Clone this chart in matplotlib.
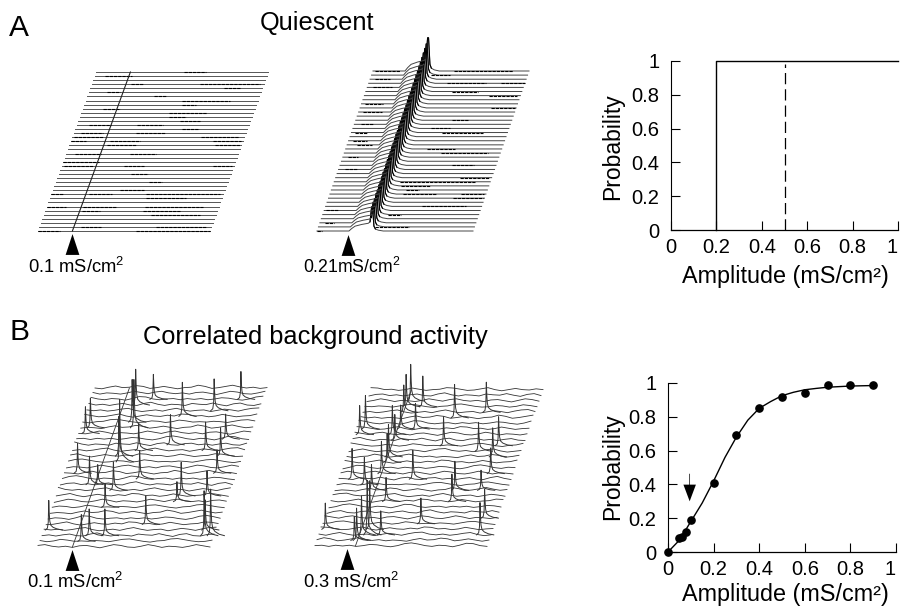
import numpy as np
import matplotlib
matplotlib.use("Agg")
import matplotlib.pyplot as plt
from matplotlib.path import Path

plt.rcParams['font.family'] = ['Liberation Sans', 'DejaVu Sans']
plt.rcParams['mathtext.fontset'] = 'custom'
plt.rcParams['mathtext.rm'] = 'Liberation Sans'
plt.rcParams['mathtext.default'] = 'regular'

W, H = 901, 607

# panel A, left: black stretches of the flat traces (row, t start, t end)
a1_speckles = [(39,.51,.64),(38,.06,.22),(36,.23,.30),(36,.63,.98),(35,.78,.87),(34,.11,.18),
    (33,.39,.46),(32,.56,.84),(31,.57,.65),(30,.12,.22),(29,.51,.73),(28,.52,.62),(27,.59,.71),
    (26,.07,.2),(26,.35,.5),(25,.62,.72),(24,.04,.17),(24,.36,.53),(23,.01,.18),(23,.75,.97),
    (22,0,.09),(22,.23,.4),(22,.83,.99),(21,.22,.39),(21,.85,.99),(19,.05,.2),(19,.37,.52),
    (17,0,.21),(16,.01,.18),(16,.36,.48),(16,.88,.99),(14,.42,.52),(12,.54,.62),(10,.39,.53),
    (9,0,.07),(9,.22,.35),(9,.55,.98),(8,.56,.79),(6,0,.11),(6,.21,.4),(6,.57,.91),(5,.21,.32),
    (5,.57,.78),(4,.62,.91),(1,.24,.36),(1,.68,.97),(0,0,.13),(0,.57,1)]
a1_ridge_t = 0.2

# panel A, middle: one response shape, scaled per row
a2_shape_t = [0, .205, .222, .244, .286, .329, .34, .35, .356, .365, .374, .393, .425, 1]
a2_shape_v = [0, 0, .1, .2, .27, .32, .38, 1, 1, .2, .085, .034, 0, 0]
a2_scale = [5.9,6.0,5.9,6.1,6.0,6.2,6.1,6.2,6.3,6.2,6.3,6.4,6.3,6.4,6.5,6.4,6.5,6.6,6.5,6.6,
            6.7,6.6,6.7,6.8,6.7,6.8,6.9,6.8,6.9,7.0,7.0,7.1,7.1,7.2,7.2,7.3,7.4,7.5,7.6,8.1]
a2_speckles = [(39,.01,.17),(39,.52,.9),(38,.38,.5),(37,.03,.13),(36,.5,.75),(36,.85,1),(35,.04,.16),
    (34,.55,.72),(33,.8,.98),(31,.02,.14),(30,.84,.99),(29,.03,.15),(27,.62,.72),(26,.04,.12),
    (25,.5,.62),(24,.02,.1),(24,.58,.84),(22,.03,.12),(21,.06,.16),(20,.52,.7),(19,.62,.92),
    (18,.03,.1),(16,.72,.86),(15,.04,.12),(13,.8,.98),(12,.42,.9),(11,.44,.62),(10,.48,.56),
    (9,.47,.68),(9,.84,.99),(8,.8,.99),(6,.62,.9),(5,.01,.09),(4,.42,.5),(2,.03,.09),(1,.36,.58),(0,0,.03)]

# panel B: spikes (row, t, height in rows) read from the two stacks
b1_spikes = [(3,.027,5.2),(1,.24,4.7),(2,.274,4.7),(2,.365,4.7),(4,.579,5),(2,.942,7.9),(2,.98,8.2),
    (3,.936,5.3),(9,.876,4.4),(9,.726,5.9),(8,.713,3.5),(10,.32,5),(7,.307,4.1),(11,.217,3.5),
    (11,.169,5),(13,.076,5.2),(12,.449,5),(13,.887,4.1),(15,.297,11),(22,.287,7.5),(21,.309,8.5),
    (17,.384,4.7),(18,.557,5.3),(17,.773,5),(16,.872,5),(19,.866,4.4),(23,.567,6),(24,.74,5.6),
    (26,.872,4.9),(26,.363,4.4),(25,.272,6.3),(20,.039,4.7),(21,.056,5.2),(16,.281,7)]
b2_spikes = [(3,.025,4.7),(1,.217,4.3),(1,.23,5.8),(2,.247,7),(2,.28,9.8),(3,.283,8.7),(2,.359,4.3),
    (4,.569,4.6),(8,.703,4.9),(10,.697,5.2),(10,.849,3.6),(2,.936,5.8),(5,.928,5.2),(13,.87,4.6),
    (17,.753,5.2),(16,.847,5.2),(18,.858,5.2),(18,.538,5.2),(12,.429,5.2),(24,.717,5.4),(23,.544,6),
    (25,.336,5.5),(26,.254,6.6),(25,.239,5.8),(24,.237,4.9),(21,.34,4.6),(21,.254,4.3),(20,.217,5.2),
    (19,.243,4.6),(16,.241,5.8),(15,.245,5.2),(13,.235,5.8),(12,.076,5.5),(11,.159,4.9),(10,.212,4.6),
    (8,.32,4.3),(20,.027,5.2),(21,.049,6)]
spike_t = [-.02, -.008, -.003, 0, .003, .006, .012, .025, .05, .08]
spike_v = [0, .06, .25, 1, .55, .3, .16, .09, .03, 0]

# slow background wobble of the traces, a few typed rows that get reused
ripples = [
    [0,.1,.05,-.05,.1,.25,.3,.15,0,-.1,.05,.1,.3,.35,.2,.05,-.05,0,.15,.1,-.05,.05,.25,.15,0,.05],
    [.1,-.05,.05,.2,.15,0,-.1,.05,.3,.4,.25,.05,-.05,.1,.05,-.1,.1,.35,.3,.05,-.05,.05,.1,-.05,.1,0],
    [-.05,.15,.3,.1,-.05,.05,.1,-.1,.05,.2,.1,-.05,.15,.3,.35,.1,0,.1,-.05,.05,.2,.3,.05,-.1,0,.1],
    [.2,.3,.1,0,.1,-.05,.15,.2,.05,-.1,.1,.3,.2,0,-.05,.1,.3,.15,-.05,.1,.05,-.05,.1,.3,.15,0],
    [0,-.1,.1,.25,.05,.1,.3,.2,-.05,.05,.2,.05,-.1,.05,.1,.35,.2,-.05,.05,.2,.35,.15,0,.1,-.05,.05],
    [.1,.2,0,-.05,.2,.35,.1,-.05,.1,.05,-.05,.2,.1,.05,.25,.05,-.1,.15,.25,0,-.05,.15,.2,0,.1,-.05],
    [-.1,.05,.2,.05,0,.15,.05,.3,.25,.05,.1,-.05,.05,.25,.1,-.05,.05,.1,.3,.25,.1,-.05,0,.15,.3,.05],
]
ripple_gain = 1.4
b1_ripple_row = [3,0,5,2,6,1,4,0,3,6,2,5,1,4,3,0,6,2,5,1,3,4,0,6,2,5,1,3,4]
b2_ripple_row = [1,4,2,6,0,3,5,1,6,2,4,0,5,3,1,6,4,2,0,5,3,6,1,4,2,0,3,5,6]
b1_roll = [0,7,3,11,5,14,2,9,17,4,12,6,19,1,8,15,3,10,21,5,13,2,18,7,11,4,16,9,0]
b2_roll = [5,12,1,8,16,3,10,20,6,14,2,9,18,4,11,7,15,0,13,22,3,8,17,5,10,1,12,6,19]
b1_ridge_t = 0.2
b2_ridge_t = 0.235

# right hand plots
tick_vals = [0, .2, .4, .6, .8, 1]
tick_labels = ['0', '0.2', '0.4', '0.6', '0.8', '1']
step_x = [0.2, 0.2, 1.0]
step_y = [0, 1, 1]
dash_x = [0.5, 0.5]
dash_y = [0, 0.98]
amp = [0, .05, .06, .08, .1, .2, .3, .4, .5, .6, .7, .8, .9]
prob = [0, .08, .09, .12, .19, .41, .69, .85, .92, .94, .99, .99, .99]
fit_x = [0, .05, .1, .15, .2, .25, .3, .35, .4, .45, .5, .55, .6, .65, .7, .8, .9]
fit_y = [0, .07, .18, .29, .42, .56, .68, .78, .85, .89, .925, .945, .96, .968, .975, .982, .985]

tri = Path([(-.33, -.5), (.33, -.5), (0, .5), (-.33, -.5)])
fig = plt.figure(figsize=(W / 100, H / 100), dpi=100)


def stack(left, ybot, ytop, width, shift, nrows):
    ax = fig.add_axes([left / W, 1 - ybot / H, (width + shift) / W, (ybot - ytop) / H])
    ax.set_xlim(0, width + shift)
    ax.set_ylim(0, nrows - 1)
    ax.axis('off')
    return ax, width, shift / (nrows - 1)


def speckle_rows(ax, width, skew, speckles):
    for r, t0, t1 in speckles:
        ax.plot(np.array([t0, t1]) * width + r * skew, [r, r], color='k', lw=0.8, dashes=(3, 0.8), clip_on=False)


def wobble_rows(ax, width, skew, nrows, order, rolls, spikes, ridge_t):
    grid = np.linspace(0, 1, len(ripples[0]))
    for r in range(nrows):
        wob = np.roll(ripples[order[r]], rolls[r]) * ripple_gain
        ax.plot(grid * width + r * skew, r + wob, color='#333333', lw=0.6, clip_on=False)
    for r, t, h in spikes:
        ax.plot((t + np.array(spike_t)) * width + r * skew, r + h * np.array(spike_v),
                color='#333333', lw=0.7, clip_on=False)
    rows = np.arange(nrows)
    ax.plot(ridge_t * width + rows * skew, rows, color='#333333', lw=0.6, clip_on=False)


# A left
ax, w, sk = stack(38, 231, 72, 172, 58, 40)
for r in range(40):
    ax.plot(np.array([0, 1]) * w + r * sk, [r, r], color='#555555', lw=0.7, clip_on=False)
speckle_rows(ax, w, sk, a1_speckles)
rows = np.arange(40)
ax.plot(a1_ridge_t * w + rows * sk, rows, color='#222222', lw=0.8, clip_on=False)
ax.plot([0.2 * w], [-3.3], marker=tri, ms=15, color='k', mew=0, clip_on=False)

# A middle
ax, w, sk = stack(317, 231, 71, 156, 56, 40)
shape_t = np.array(a2_shape_t)
shape_v = np.array(a2_shape_v)
for r in range(40):
    ax.plot(shape_t * w + r * sk, r + a2_scale[r] * shape_v, color='#444444', lw=0.7, clip_on=False)
    ax.plot(shape_t[6:11] * w + r * sk, r + a2_scale[r] * shape_v[6:11], color='k', lw=0.8, clip_on=False)
speckle_rows(ax, w, sk, a2_speckles)
ax.plot([0.2 * w], [-3.3], marker=tri, ms=15, color='k', mew=0, clip_on=False)

# B left
ax, w, sk = stack(38, 547, 388, 172, 57, 29)
wobble_rows(ax, w, sk, 29, b1_ripple_row, b1_roll, b1_spikes, b1_ridge_t)
ax.plot([0.2 * w], [-2.3], marker=tri, ms=15, color='k', mew=0, clip_on=False)

# B middle
ax, w, sk = stack(315, 546, 390, 172, 56, 29)
wobble_rows(ax, w, sk, 29, b2_ripple_row, b2_roll, b2_spikes, b2_ridge_t)
ax.plot([0.186 * w], [-2.3], marker=tri, ms=15, color='k', mew=0, clip_on=False)


def prob_axes(left, right, ybot, ytop):
    ax = fig.add_axes([left / W, 1 - ybot / H, (right - left) / W, (ybot - ytop) / H])
    ax.set_xlim(0, 1)
    ax.set_ylim(0, 1)
    ax.spines['top'].set_visible(False)
    ax.spines['right'].set_visible(False)
    ax.spines['left'].set_linewidth(0.8)
    ax.spines['bottom'].set_linewidth(0.9)
    ax.set_xticks(tick_vals, tick_labels)
    ax.set_yticks(tick_vals, tick_labels)
    ax.tick_params(direction='in', length=6.5, width=0.8, labelsize=14.5)
    ax.tick_params(axis='x', pad=5.5)
    ax.tick_params(axis='y', pad=8.5)
    ax.get_xticklabels()[-1].set_ha('right')
    ax.patch.set_alpha(0)
    return ax


ax = prob_axes(671, 898, 230, 61)
ax.plot(step_x, step_y, color='k', lw=1.0, clip_on=False)
ax.plot(dash_x, dash_y, color='k', lw=0.9, dashes=(9, 4))

ax = prob_axes(668, 896, 552, 383)
ax.plot(fit_x, fit_y, color='k', lw=1.0, clip_on=False)
ax.plot(amp, prob, 'o', color='k', ms=5.2, clip_on=False, zorder=5)
ax.annotate('', xy=(.095, .30), xytext=(.095, .463),
            arrowprops=dict(facecolor='k', edgecolor='k', width=0.5, headwidth=9, headlength=12, shrink=0, lw=0))


def label(x, y, s, size, **kw):
    fig.text(x / W, 1 - y / H, s, fontsize=size, color='k', **kw)


label(9, 36, 'A', 21.5)
label(10, 340, 'B', 21.5)
label(317, 30, 'Quiescent', 18.3, ha='center')
label(315, 344, 'Correlated background activity', 18.3, ha='center')
label(28, 273, '0.1 mS/cm$^{2}$', 13.2)
label(303, 273, '0.21mS/cm$^{2}$', 12.7)
label(27, 588, '0.1 mS/cm$^{2}$', 13.2)
label(303, 588, '0.3 mS/cm$^{2}$', 13.2)
label(613, 147, 'Probability', 16.5, rotation=90, ha='center', va='center')
label(613, 467, 'Probability', 16.5, rotation=90, ha='center', va='center')
label(785, 283, 'Amplitude (mS/cm²)', 16.8, ha='center')
label(785, 601, 'Amplitude (mS/cm²)', 16.8, ha='center')

fig.savefig('out.png', dpi=100)
